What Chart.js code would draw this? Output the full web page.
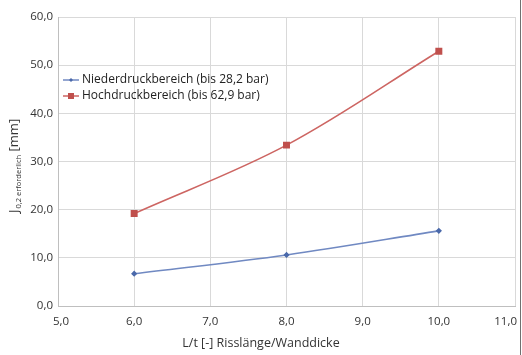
<!DOCTYPE html>
<html><head><meta charset="utf-8">
<script src="https://cdn.jsdelivr.net/npm/chart.js@4.4.1/dist/chart.umd.min.js"></script>
<style>html,body{margin:0;padding:0;background:#fff}#c{display:block}</style>
</head><body>
<canvas id="c" width="522" height="355"></canvas>
<script>
const xValues = [6, 8, 10];
const niederdruck = [6.7, 10.6, 15.6];
const hochdruck = [19.2, 33.4, 52.9];
const seriesNames = ['Niederdruckbereich (bis 28,2 bar)', 'Hochdruckbereich (bis 62,9 bar)'];
const xTicks = [5, 6, 7, 8, 9, 10, 11];
const yTicks = [0, 10, 20, 30, 40, 50, 60];
const xTitle = 'L/t [-] Risslänge/Wanddicke';
const yTitleMain = 'J';
const yTitleSub = '0,2 erforderlich';
const yTitleUnit = ' [mm]';

const FONT = '"Open Sans", "Noto Sans", sans-serif';
const fmt = v => v.toFixed(1).replace('.', ',');

const custom = {
  id: 'custom',
  afterDraw(chart) {
    const ctx = chart.ctx;
    const xs = chart.scales.x;
    ctx.save();
    ctx.fillStyle = '#333333';
    ctx.font = '11.5px ' + FONT;
    ctx.textBaseline = 'middle';
    ctx.textAlign = 'left';
    xTicks.forEach(v => {
      const t = fmt(v);
      const w = ctx.measureText(t).width;
      let px = xs.getPixelForValue(v) - w / 2;
      px = Math.max(53, Math.min(517 - w, px));
      ctx.fillText(t, px, 322);
    });
    ctx.font = '12.5px ' + FONT;
    ctx.textAlign = 'center';
    ctx.fillText(xTitle, 261, 343);
    ctx.translate(18, 213);
    ctx.rotate(-Math.PI / 2);
    ctx.textAlign = 'left';
    ctx.textBaseline = 'alphabetic';
    ctx.font = '13px ' + FONT;
    ctx.fillText(yTitleMain, 0, 0);
    let off = ctx.measureText(yTitleMain).width;
    ctx.font = '7.5px ' + FONT;
    ctx.fillText(yTitleSub, off + 1, 3);
    off += 1 + ctx.measureText(yTitleSub).width;
    ctx.font = '13px ' + FONT;
    ctx.fillText(yTitleUnit, off, 0);
    ctx.restore();
    ctx.save();
    ctx.font = '12px ' + FONT;
    ctx.textBaseline = 'middle';
    chart.data.datasets.forEach((ds, i) => {
      const y = 80 + i * 16;
      ctx.strokeStyle = ds.borderColor;
      ctx.lineWidth = 1.5;
      ctx.beginPath(); ctx.moveTo(63, y); ctx.lineTo(79, y); ctx.stroke();
      ctx.fillStyle = ds.pointBackgroundColor;
      if (i === 0) {
        ctx.beginPath(); ctx.moveTo(71, y - 2); ctx.lineTo(73, y); ctx.lineTo(71, y + 2); ctx.lineTo(69, y); ctx.closePath(); ctx.fill();
      } else {
        ctx.fillRect(68, y - 3, 6, 6);
      }
      ctx.fillStyle = '#222222';
      ctx.fillText(ds.label, 82, y);
    });
    ctx.strokeStyle = '#707070';
    ctx.lineWidth = 1;
    ctx.beginPath(); ctx.moveTo(520.5, 0); ctx.lineTo(520.5, 355); ctx.stroke();
    ctx.restore();
  }
};

new Chart(document.getElementById('c'), {
  type: 'line',
  data: {
    datasets: [
      { label: seriesNames[0], data: xValues.map((x, i) => ({x, y: niederdruck[i]})),
        borderColor: '#7089c2', backgroundColor: '#4a69aa', pointBackgroundColor: '#4a69aa', pointBorderColor: '#4a69aa',
        pointStyle: 'rectRot', pointRadius: 2, borderWidth: 1.6, tension: 0.35 },
      { label: seriesNames[1], data: xValues.map((x, i) => ({x, y: hochdruck[i]})),
        borderColor: '#cd6562', backgroundColor: '#c0504d', pointBackgroundColor: '#c0504d', pointBorderColor: '#c0504d',
        pointStyle: 'rect', pointRadius: 3.8, borderWidth: 1.6, tension: 0.35 }
    ]
  },
  options: {
    responsive: false, animation: false, devicePixelRatio: 1,
    layout: { padding: { left: 0, right: 7, top: 17, bottom: 0 } },
    plugins: { legend: { display: false }, tooltip: { enabled: false } },
    scales: {
      x: { type: 'linear', min: 5, max: 11,
        afterBuildTicks: s => { s.ticks = xTicks.map(v => ({value: v})); },
        afterFit: s => { s.height = 49; s.paddingLeft = 0; s.paddingRight = 0; },
        ticks: { display: false },
        grid: { color: '#d9d9d9', lineWidth: 1, drawTicks: false },
        border: { color: '#bfbfbf' } },
      y: { type: 'linear', min: 0, max: 60,
        afterBuildTicks: s => { s.ticks = yTicks.map(v => ({value: v})); },
        afterFit: s => { s.width = 58; s.paddingTop = 0; s.paddingBottom = 0; },
        ticks: { callback: v => fmt(v), color: '#333333', font: { family: FONT, size: 11.5 }, padding: 5 },
        grid: { color: '#d9d9d9', lineWidth: 1, drawTicks: false },
        border: { color: '#bfbfbf' } }
    }
  },
  plugins: [custom]
});
</script>
</body></html>
